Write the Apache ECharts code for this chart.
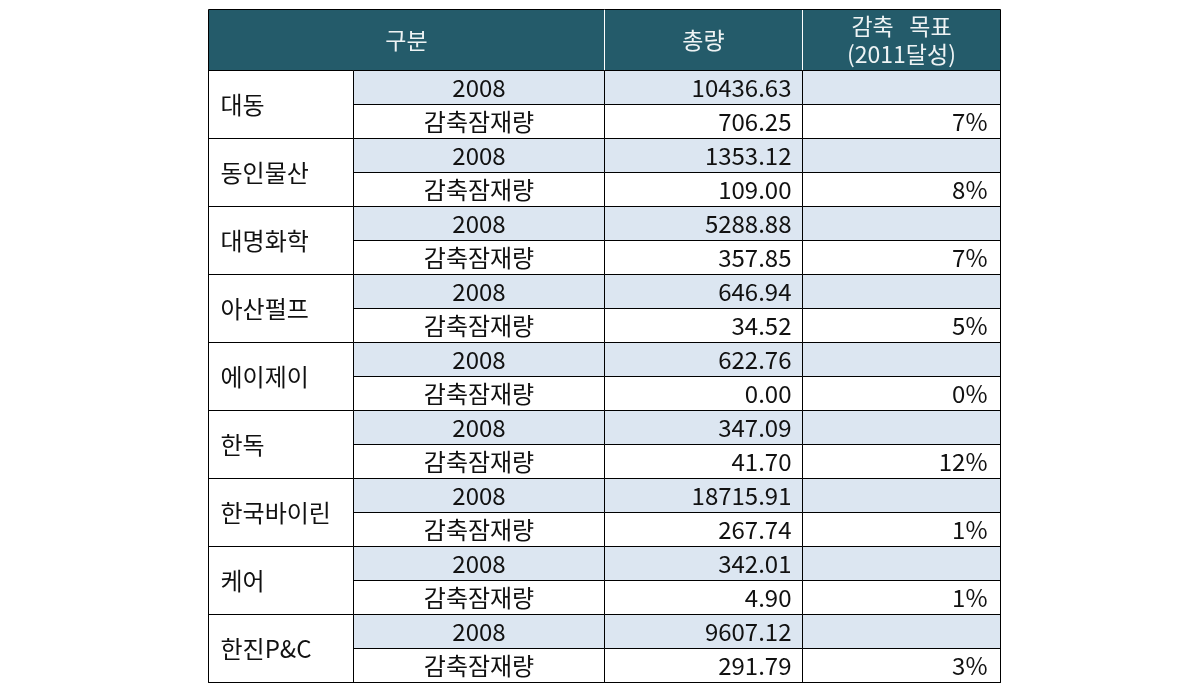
<!DOCTYPE html>
<html>
<head>
<meta charset="utf-8">
<script src="https://cdn.jsdelivr.net/npm/echarts@6/dist/echarts.min.js"></script>
<style>
html,body{margin:0;padding:0;background:#fff;}
#main{width:1190px;height:694px;}
</style>
</head>
<body>
<div id="main"></div>
<script>
// ---- data ----
const companies = ['대동', '동인물산', '대명화학', '아산펄프', '에이제이', '한독', '한국바이린', '케어', '한진P&C'];
const rowLabels = ['2008', '감축잠재량'];
const totals2008 = [10436.63, 1353.12, 5288.88, 646.94, 622.76, 347.09, 18715.91, 342.01, 9607.12];
const reductions = [706.25, 109.00, 357.85, 34.52, 0.00, 41.70, 267.74, 4.90, 291.79];
const targets = [7, 8, 7, 5, 0, 12, 1, 1, 3];
const headers = ['구분', '총량', '감축   목표\n(2011달성)'];

// ---- layout (style only) ----
const colEdges = [0, 145, 396, 594, 792];
const headerRows = 61 / 34;
const FONT = '"Noto Sans CJK KR", "Noto Sans", sans-serif';
const HEAD_BG = '#245b6a';
const BAND_BG = '#dce6f1';

const cells = [];
function cell(c0, c1, r0, r1, text, kind, fill, stroke) {
  cells.push({c0, c1, r0, r1, text, kind, fill, stroke});
}
// header
cell(0, 2, -headerRows, 0, headers[0], 'head', HEAD_BG, '#ffffff');
cell(2, 3, -headerRows, 0, headers[1], 'head', HEAD_BG, '#ffffff');
cell(3, 4, -headerRows, 0, headers[2], 'head', HEAD_BG, '#ffffff');
// body
companies.forEach((name, i) => {
  const r = i * 2;
  cell(1, 2, r, r + 1, rowLabels[0], 'center', BAND_BG, '#000');
  cell(2, 3, r, r + 1, totals2008[i].toFixed(2), 'num', BAND_BG, '#000');
  cell(3, 4, r, r + 1, '', 'pct', BAND_BG, '#000');
  cell(1, 2, r + 1, r + 2, rowLabels[1], 'center', '#ffffff', '#000');
  cell(2, 3, r + 1, r + 2, reductions[i].toFixed(2), 'num', '#ffffff', '#000');
  cell(3, 4, r + 1, r + 2, targets[i] + '%', 'pct', '#ffffff', '#000');
  cell(0, 1, r, r + 2, name, 'name', '#ffffff', '#000');
});
// outer frame
cell(0, 4, -headerRows, companies.length * 2, '', 'frame', 'none', '#000');

const chart = echarts.init(document.getElementById('main'), null, {renderer: 'canvas'});
chart.setOption({
  animation: false,
  backgroundColor: '#ffffff',
  grid: {left: 208.5, top: 9.5, width: 792, height: 673},
  xAxis: {type: 'value', min: colEdges[0], max: colEdges[colEdges.length - 1], show: false},
  yAxis: {type: 'value', inverse: true, min: -headerRows, max: companies.length * 2, show: false},
  series: [{
    type: 'custom',
    coordinateSystem: 'cartesian2d',
    data: cells.map(c => [colEdges[c.c0], c.r0, colEdges[c.c1], c.r1]),
    renderItem: function (params, api) {
      const c = cells[params.dataIndex];
      const p0 = api.coord([api.value(0), api.value(1)]);
      const p1 = api.coord([api.value(2), api.value(3)]);
      const x0 = Math.round(p0[0] - 0.5) + 0.5, x1 = Math.round(p1[0] - 0.5) + 0.5;
      const y0 = Math.round(p0[1] - 0.5) + 0.5, y1 = Math.round(p1[1] - 0.5) + 0.5;
      const children = [{
        type: 'rect',
        shape: {x: x0, y: y0, width: x1 - x0, height: y1 - y0},
        style: {fill: c.fill, stroke: c.stroke, lineWidth: 1}
      }];
      if (c.text) {
        let tx, align;
        if (c.kind === 'name') { tx = x0 + 12; align = 'left'; }
        else if (c.kind === 'num') { tx = x1 - 11; align = 'right'; }
        else if (c.kind === 'pct') { tx = x1 - 13; align = 'right'; }
        else { tx = (x0 + x1) / 2; align = 'center'; }
        const isHead = c.kind === 'head';
        children.push({
          type: 'text',
          x: tx,
          y: (y0 + y1) / 2 + 0.5,
          style: {
            text: c.text,
            fill: isHead ? '#eef3f4' : '#111111',
            fontSize: isHead ? 23 : 24,
            fontFamily: FONT,
            align: align,
            verticalAlign: 'middle',
            lineHeight: 28
          }
        });
      }
      return {type: 'group', children: children};
    }
  }]
});
</script>
</body>
</html>
